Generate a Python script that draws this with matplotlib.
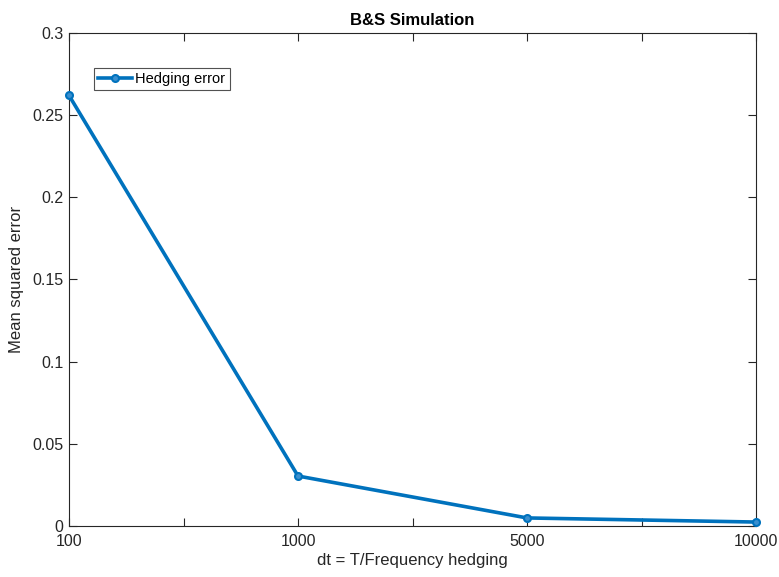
import matplotlib
matplotlib.use("Agg")
import matplotlib.pyplot as plt

plt.rcParams['font.family'] = ['Liberation Sans', 'DejaVu Sans']

categories = ["100", "1000", "5000", "10000"]
errors = [0.262, 0.0304, 0.0049, 0.0024]

fig = plt.figure(figsize=(7.79, 5.77), dpi=100)
ax = fig.add_axes([0.0886, 0.0884, 0.9705 - 0.0886, 0.9428 - 0.0884])

x = list(range(1, len(categories) + 1))
ax.plot(x, errors, color='#0072BD', linewidth=2.6, marker='o', markersize=5,
        markerfacecolor='#3a8fcf', markeredgecolor='#0072BD', markeredgewidth=1.5,
        label='Hedging error', clip_on=False, zorder=5)

ax.set_xlim(1, 4)
ax.set_ylim(0, 0.3)
ticks = [1, 1.5, 2, 2.5, 3, 3.5, 4]
ax.set_xticks(ticks)
ax.set_xticklabels(["100", "", "1000", "", "5000", "", "10000"])
ax.set_yticks([0, 0.05, 0.1, 0.15, 0.2, 0.25, 0.3])
ax.set_yticklabels(["0", "0.05", "0.1", "0.15", "0.2", "0.25", "0.3"])
ax.tick_params(direction='in', length=6, width=0.8, top=True, right=True,
               labelsize=11.5, colors='#262626', pad=4)
ax.tick_params(axis='x', pad=6)
for s in ax.spines.values():
    s.set_color('#262626')
    s.set_linewidth(0.8)

ax.set_xlabel('dt = T/Frequency hedging', fontsize=12, color='#262626', labelpad=3)
ax.set_ylabel('Mean squared error', fontsize=12, color='#262626', labelpad=6)
ax.set_title('B&S Simulation', fontsize=12, fontweight='bold', color='black', pad=6)

leg = ax.legend(loc='upper left', bbox_to_anchor=(0.036, 0.93), fontsize=10.5,
                frameon=True, fancybox=False, borderpad=0.3, handlelength=2.3,
                handletextpad=0.25, borderaxespad=0)
leg.get_frame().set_edgecolor('#262626')
leg.get_frame().set_linewidth(0.8)

fig.savefig('out.png', dpi=100)
